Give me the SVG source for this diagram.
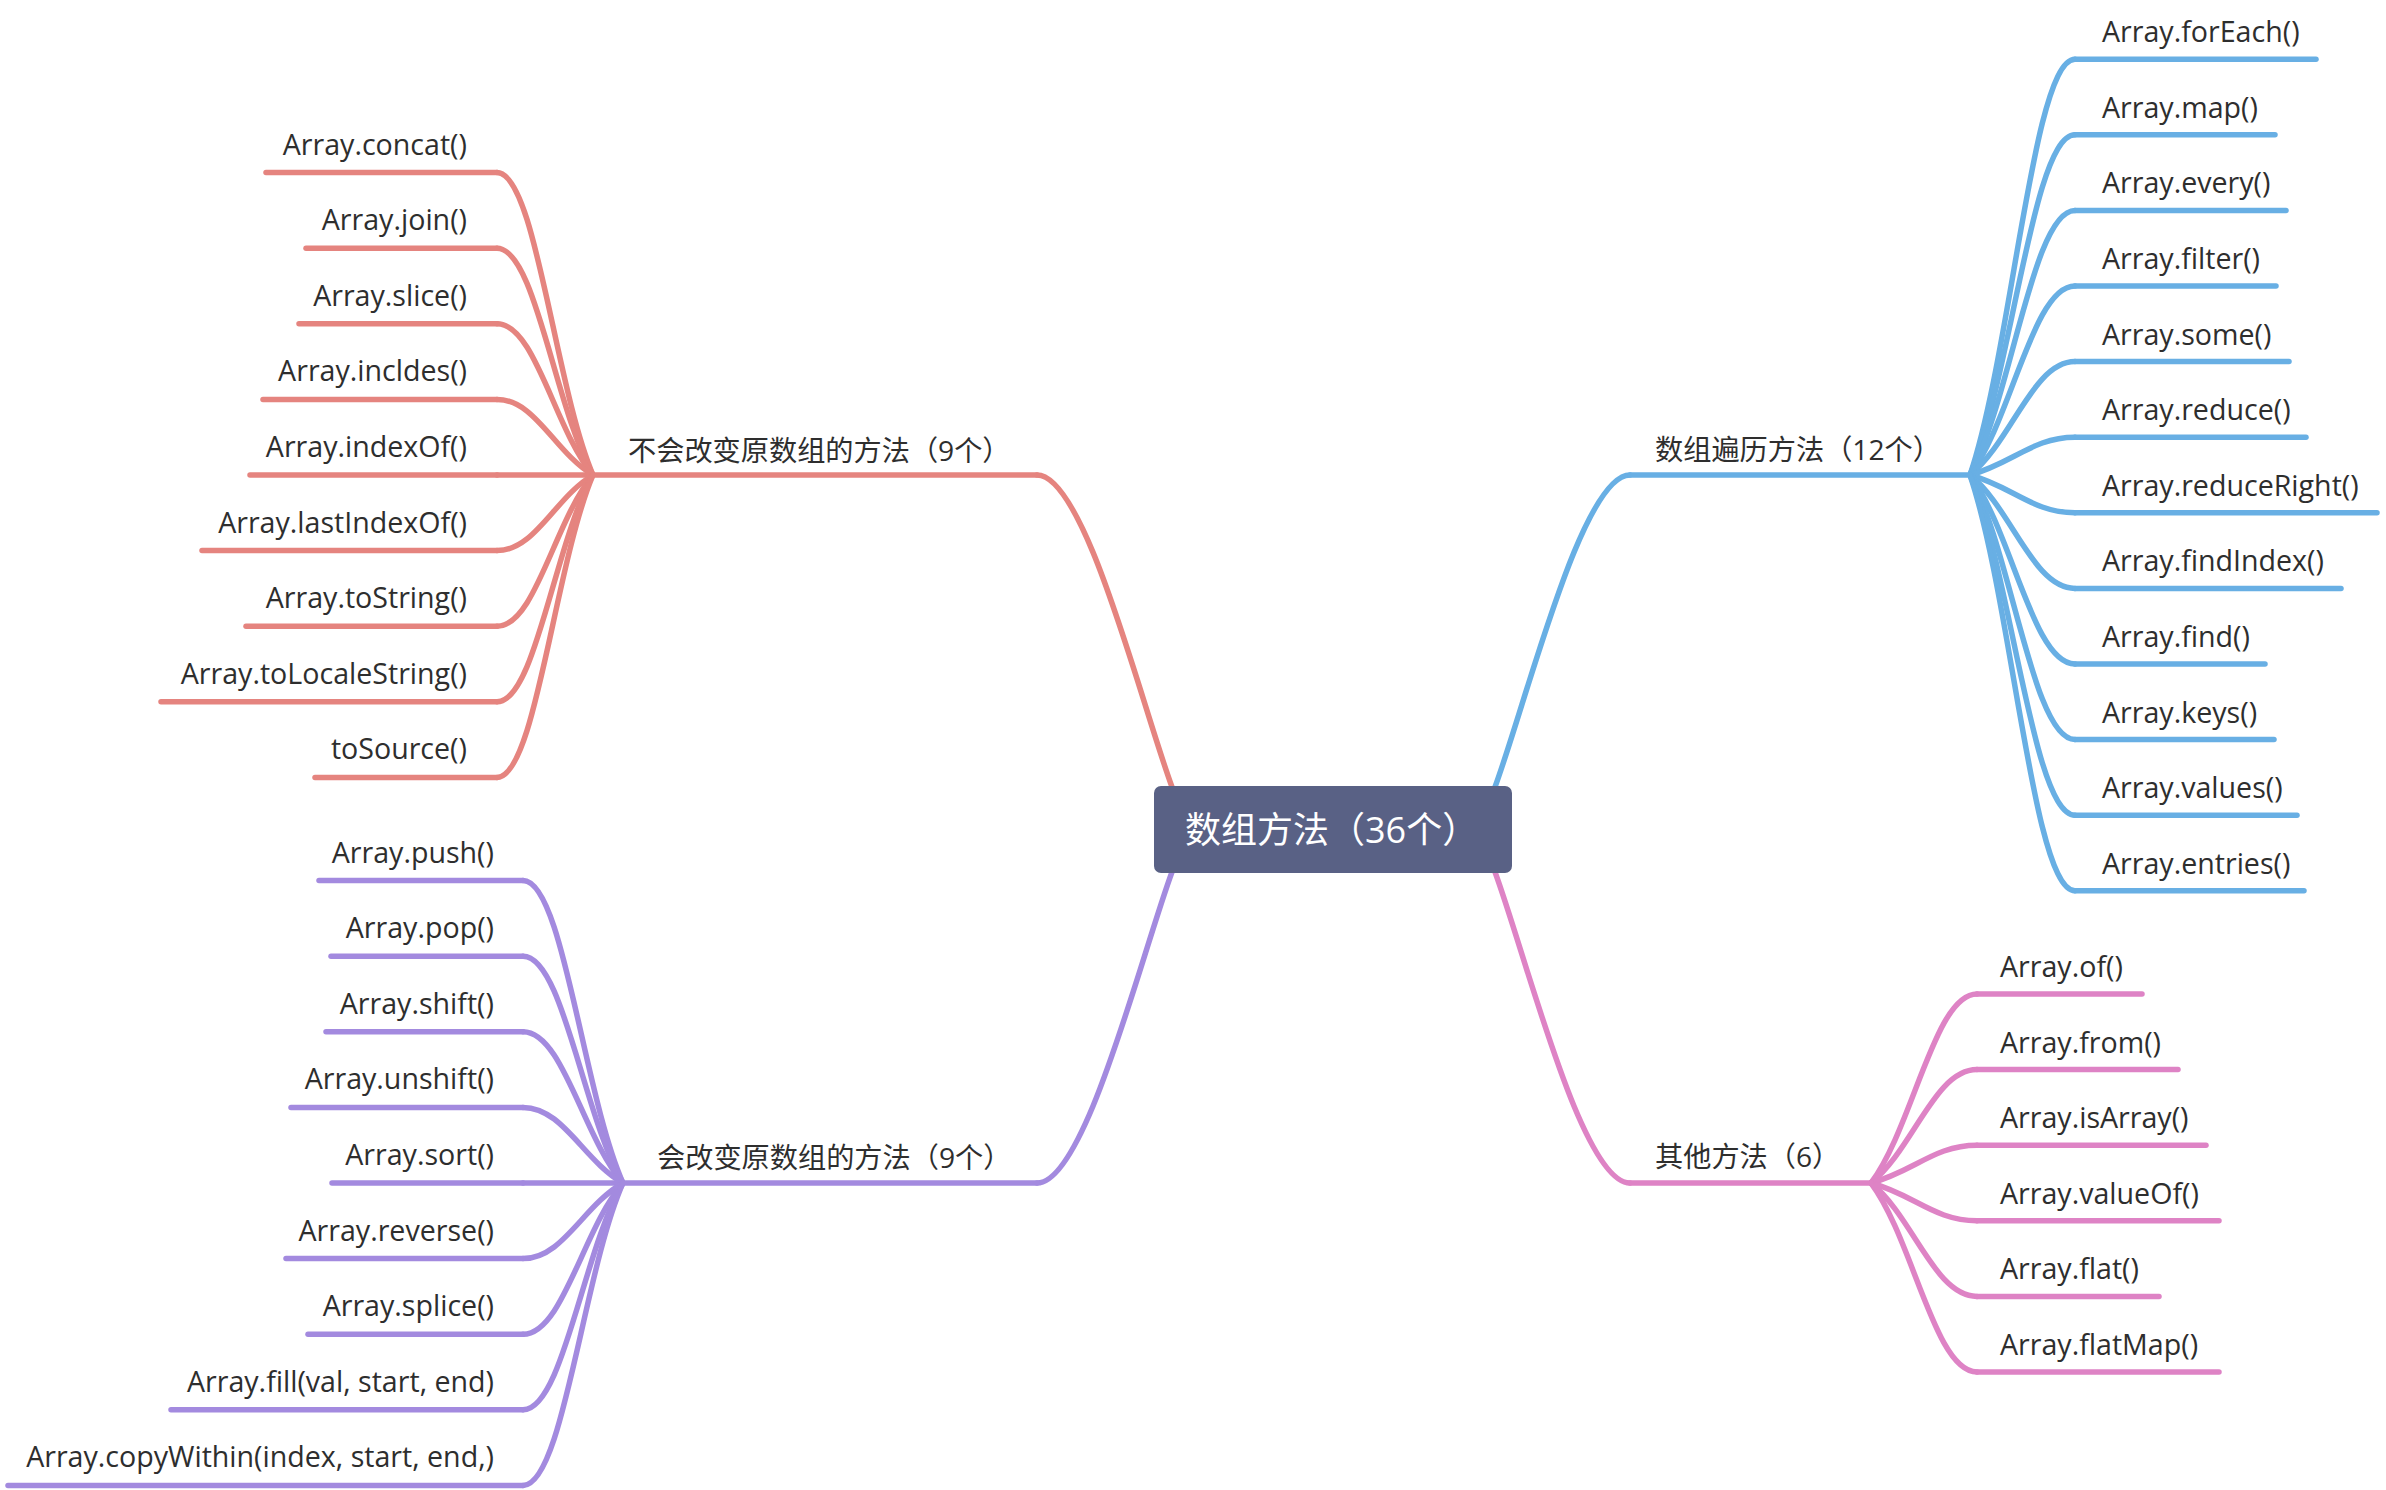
<svg xmlns="http://www.w3.org/2000/svg" width="2386" height="1490" viewBox="0 0 2386 1490">
<style>
  .ln{fill:none;stroke-width:5.5;stroke-linecap:round;stroke-linejoin:round}
  .red{stroke:#E5847F}
  .blue{stroke:#68AFE4}
  .purple{stroke:#A38ADF}
  .pink{stroke:#DE83C5}
  .t{font-family:"Open Sans","Noto Sans CJK SC",sans-serif;font-size:28.6px;fill:#2e2e2e}
  .b{font-family:"Open Sans","Noto Sans CJK SC",sans-serif;font-size:28.2px;fill:#2e2e2e}
  .e{text-anchor:end}
  .root{font-family:"Open Sans","Noto Sans CJK SC",sans-serif;font-size:36px;fill:#ffffff}
</style>
<rect width="2386" height="1490" fill="#ffffff"/>

<!-- curved connectors: root to branches, branches to leaves -->
<g id="connectors">
  <path class="ln red" d="M1172 787C1140 700 1085 475 1037 475"/>
  <path class="ln blue" d="M1495 787C1527 700 1582 475 1630 475"/>
  <path class="ln purple" d="M1172 872C1140 959 1085 1183 1037 1183"/>
  <path class="ln pink" d="M1495 872C1527 959 1582 1183 1630 1183"/>

  <path class="ln red" d="M593 475C554.6 384.3 535.4 172.6 497 172.6"/>
  <path class="ln red" d="M593 475C554.6 407 535.4 248.2 497 248.2"/>
  <path class="ln red" d="M593 475C554.6 429.6 535.4 323.8 497 323.8"/>
  <path class="ln red" d="M593 475C554.6 452.3 535.4 399.4 497 399.4"/>
  <path class="ln red" d="M593 475L497 475"/>
  <path class="ln red" d="M593 475C554.6 497.7 535.4 550.6 497 550.6"/>
  <path class="ln red" d="M593 475C554.6 520.4 535.4 626.2 497 626.2"/>
  <path class="ln red" d="M593 475C554.6 543 535.4 701.8 497 701.8"/>
  <path class="ln red" d="M593 475C554.6 565.7 535.4 777.4 497 777.4"/>

  <path class="ln purple" d="M623 1183C583 1092.3 563 880.6 523 880.6"/>
  <path class="ln purple" d="M623 1183C583 1115 563 956.2 523 956.2"/>
  <path class="ln purple" d="M623 1183C583 1137.6 563 1031.8 523 1031.8"/>
  <path class="ln purple" d="M623 1183C583 1160.3 563 1107.4 523 1107.4"/>
  <path class="ln purple" d="M623 1183L523 1183"/>
  <path class="ln purple" d="M623 1183C583 1205.7 563 1258.6 523 1258.6"/>
  <path class="ln purple" d="M623 1183C583 1228.4 563 1334.2 523 1334.2"/>
  <path class="ln purple" d="M623 1183C583 1251 563 1409.8 523 1409.8"/>
  <path class="ln purple" d="M623 1183C583 1273.7 563 1485.4 523 1485.4"/>

  <path class="ln blue" d="M1970 475C2012 350.3 2033 59.2 2075 59.2"/>
  <path class="ln blue" d="M1970 475C2012 372.9 2033 134.8 2075 134.8"/>
  <path class="ln blue" d="M1970 475C2012 395.6 2033 210.4 2075 210.4"/>
  <path class="ln blue" d="M1970 475C2012 418.3 2033 286 2075 286"/>
  <path class="ln blue" d="M1970 475C2012 441 2033 361.6 2075 361.6"/>
  <path class="ln blue" d="M1970 475C2012 463.7 2033 437.2 2075 437.2"/>
  <path class="ln blue" d="M1970 475C2012 486.3 2033 512.8 2075 512.8"/>
  <path class="ln blue" d="M1970 475C2012 509 2033 588.4 2075 588.4"/>
  <path class="ln blue" d="M1970 475C2012 531.7 2033 664 2075 664"/>
  <path class="ln blue" d="M1970 475C2012 554.4 2033 739.6 2075 739.6"/>
  <path class="ln blue" d="M1970 475C2012 577.1 2033 815.2 2075 815.2"/>
  <path class="ln blue" d="M1970 475C2012 599.7 2033 890.8 2075 890.8"/>

  <path class="ln pink" d="M1871 1183C1913.4 1126.3 1934.6 994 1977 994"/>
  <path class="ln pink" d="M1871 1183C1913.4 1149 1934.6 1069.6 1977 1069.6"/>
  <path class="ln pink" d="M1871 1183C1913.4 1171.7 1934.6 1145.2 1977 1145.2"/>
  <path class="ln pink" d="M1871 1183C1913.4 1194.3 1934.6 1220.8 1977 1220.8"/>
  <path class="ln pink" d="M1871 1183C1913.4 1217 1934.6 1296.4 1977 1296.4"/>
  <path class="ln pink" d="M1871 1183C1913.4 1239.7 1934.6 1372 1977 1372"/>
</g>

<!-- central topic -->
<g id="root">
  <rect x="1154" y="786" width="358" height="87" rx="7" fill="#596185"/>
  <text class="root" x="1185" y="843">数组方法（36个）</text>
</g>

<!-- main branches -->
<g id="branch-immutable">
  <path class="ln red" d="M1037 475H593"/>
  <text class="b" x="628" y="461">不会改变原数组的方法（9个）</text>
</g>
<g id="branch-iterate">
  <path class="ln blue" d="M1630 475H1970"/>
  <text class="b" x="1655" y="460">数组遍历方法（12个）</text>
</g>
<g id="branch-mutable">
  <path class="ln purple" d="M1037 1183H623"/>
  <text class="b" x="657" y="1168">会改变原数组的方法（9个）</text>
</g>
<g id="branch-other">
  <path class="ln pink" d="M1630 1183H1871"/>
  <text class="b" x="1655" y="1167">其他方法（6）</text>
</g>

<!-- leaves: methods that leave the array untouched -->
<g id="n-concat"><path class="ln red" d="M497 172.6H266"/><text class="t e" x="467" y="154.6">Array.concat()</text></g>
<g id="n-join"><path class="ln red" d="M497 248.2H306"/><text class="t e" x="467" y="230.2">Array.join()</text></g>
<g id="n-slice"><path class="ln red" d="M497 323.8H299"/><text class="t e" x="467" y="305.8">Array.slice()</text></g>
<g id="n-incldes"><path class="ln red" d="M497 399.4H263"/><text class="t e" x="467" y="381.4">Array.incldes()</text></g>
<g id="n-indexOf"><path class="ln red" d="M497 475H250"/><text class="t e" x="467" y="457">Array.indexOf()</text></g>
<g id="n-lastIndexOf"><path class="ln red" d="M497 550.6H202"/><text class="t e" x="467" y="532.6">Array.lastIndexOf()</text></g>
<g id="n-toString"><path class="ln red" d="M497 626.2H246"/><text class="t e" x="467" y="608.2">Array.toString()</text></g>
<g id="n-toLocaleString"><path class="ln red" d="M497 701.8H161"/><text class="t e" x="467" y="683.8">Array.toLocaleString()</text></g>
<g id="n-toSource"><path class="ln red" d="M497 777.4H315"/><text class="t e" x="467" y="759.4">toSource()</text></g>

<!-- leaves: mutating methods -->
<g id="n-push"><path class="ln purple" d="M523 880.6H319"/><text class="t e" x="494" y="862.6">Array.push()</text></g>
<g id="n-pop"><path class="ln purple" d="M523 956.2H331"/><text class="t e" x="494" y="938.2">Array.pop()</text></g>
<g id="n-shift"><path class="ln purple" d="M523 1031.8H326"/><text class="t e" x="494" y="1013.8">Array.shift()</text></g>
<g id="n-unshift"><path class="ln purple" d="M523 1107.4H291"/><text class="t e" x="494" y="1089.4">Array.unshift()</text></g>
<g id="n-sort"><path class="ln purple" d="M523 1183H332"/><text class="t e" x="494" y="1165">Array.sort()</text></g>
<g id="n-reverse"><path class="ln purple" d="M523 1258.6H286"/><text class="t e" x="494" y="1240.6">Array.reverse()</text></g>
<g id="n-splice"><path class="ln purple" d="M523 1334.2H308"/><text class="t e" x="494" y="1316.2">Array.splice()</text></g>
<g id="n-fill"><path class="ln purple" d="M523 1409.8H171"/><text class="t e" x="494" y="1391.8">Array.fill(val, start, end)</text></g>
<g id="n-copyWithin"><path class="ln purple" d="M523 1485.4H8"/><text class="t e" x="494" y="1467.4">Array.copyWithin(index, start, end,)</text></g>

<!-- leaves: iteration methods -->
<g id="n-forEach"><path class="ln blue" d="M2075 59.2H2316"/><text class="t" x="2102" y="42.2">Array.forEach()</text></g>
<g id="n-map"><path class="ln blue" d="M2075 134.8H2275"/><text class="t" x="2102" y="117.8">Array.map()</text></g>
<g id="n-every"><path class="ln blue" d="M2075 210.4H2286"/><text class="t" x="2102" y="193.4">Array.every()</text></g>
<g id="n-filter"><path class="ln blue" d="M2075 286H2276"/><text class="t" x="2102" y="269">Array.filter()</text></g>
<g id="n-some"><path class="ln blue" d="M2075 361.6H2289"/><text class="t" x="2102" y="344.6">Array.some()</text></g>
<g id="n-reduce"><path class="ln blue" d="M2075 437.2H2306"/><text class="t" x="2102" y="420.2">Array.reduce()</text></g>
<g id="n-reduceRight"><path class="ln blue" d="M2075 512.8H2377"/><text class="t" x="2102" y="495.8">Array.reduceRight()</text></g>
<g id="n-findIndex"><path class="ln blue" d="M2075 588.4H2341"/><text class="t" x="2102" y="571.4">Array.findIndex()</text></g>
<g id="n-find"><path class="ln blue" d="M2075 664H2265"/><text class="t" x="2102" y="647">Array.find()</text></g>
<g id="n-keys"><path class="ln blue" d="M2075 739.6H2274"/><text class="t" x="2102" y="722.6">Array.keys()</text></g>
<g id="n-values"><path class="ln blue" d="M2075 815.2H2297"/><text class="t" x="2102" y="798.2">Array.values()</text></g>
<g id="n-entries"><path class="ln blue" d="M2075 890.8H2304"/><text class="t" x="2102" y="873.8">Array.entries()</text></g>

<!-- leaves: other methods -->
<g id="n-of"><path class="ln pink" d="M1977 994H2142"/><text class="t" x="2000" y="977">Array.of()</text></g>
<g id="n-from"><path class="ln pink" d="M1977 1069.6H2178"/><text class="t" x="2000" y="1052.6">Array.from()</text></g>
<g id="n-isArray"><path class="ln pink" d="M1977 1145.2H2206"/><text class="t" x="2000" y="1128.2">Array.isArray()</text></g>
<g id="n-valueOf"><path class="ln pink" d="M1977 1220.8H2219"/><text class="t" x="2000" y="1203.8">Array.valueOf()</text></g>
<g id="n-flat"><path class="ln pink" d="M1977 1296.4H2159"/><text class="t" x="2000" y="1279.4">Array.flat()</text></g>
<g id="n-flatMap"><path class="ln pink" d="M1977 1372H2219"/><text class="t" x="2000" y="1355">Array.flatMap()</text></g>
</svg>
